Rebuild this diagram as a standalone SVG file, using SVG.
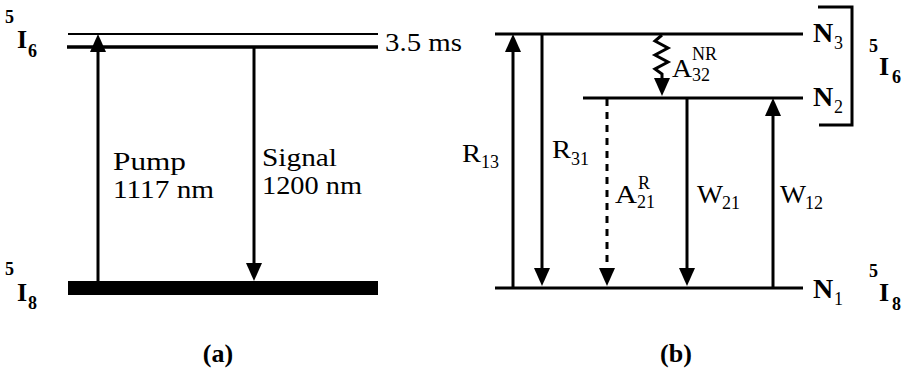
<svg xmlns="http://www.w3.org/2000/svg" width="904" height="372" viewBox="0 0 904 372">
<style>
text{font-family:"Liberation Serif","Times New Roman",serif;fill:#000}
.big{font-size:26px}
.nn{font-size:28px}
.sub{font-size:18px}
.b{font-weight:bold}
.lvl{stroke:#000;stroke-width:3;fill:none}
.arr{stroke:#000;stroke-width:3;fill:none}
</style>
<defs>
<marker id="ah" viewBox="0 0 18 16" refX="0" refY="8" markerWidth="18" markerHeight="16" markerUnits="userSpaceOnUse" orient="auto">
<path d="M0,0 L18,8 L0,16 Z" fill="#000"/>
</marker>
</defs>
<rect width="904" height="372" fill="#fff"/>

<!-- Panel (a) -->
<g id="a-level-I6">
<line x1="68" y1="34" x2="378" y2="34" stroke="#000" stroke-width="2"/>
<line x1="67" y1="47" x2="378" y2="47" stroke="#000" stroke-width="3.5"/>
<text class="big" x="385" y="51" textLength="77" lengthAdjust="spacingAndGlyphs">3.5 ms</text>
<text class="sub b" x="5" y="23">5</text>
<text class="big b" x="17" y="48">I</text>
<text class="sub b" x="28" y="57">6</text>
</g>
<g id="a-level-I8">
<rect x="68" y="281" width="310" height="14" fill="#000"/>
<text class="sub b" x="5" y="275">5</text>
<text class="big b" x="17" y="301">I</text>
<text class="sub b" x="28" y="309">8</text>
</g>
<g id="a-connectors">
<line class="arr" x1="98" y1="283" x2="98" y2="52" marker-end="url(#ah)"/>
<line class="arr" x1="254" y1="47" x2="254" y2="263" marker-end="url(#ah)"/>
</g>
<g id="a-labels">
<text class="big" x="113" y="170" textLength="73" lengthAdjust="spacingAndGlyphs">Pump</text>
<text class="big" x="113" y="198" textLength="101" lengthAdjust="spacingAndGlyphs">1117 nm</text>
<text class="big" x="262" y="166" textLength="75" lengthAdjust="spacingAndGlyphs">Signal</text>
<text class="big" x="262" y="194" textLength="100" lengthAdjust="spacingAndGlyphs">1200 nm</text>
<text class="big b" x="218" y="362" text-anchor="middle">(a)</text>
</g>

<!-- Panel (b) -->
<g id="b-level-N3">
<line class="lvl" x1="495" y1="34" x2="803" y2="34"/>
<text class="nn b" x="813" y="42">N</text>
<text class="sub" x="834" y="49">3</text>
</g>
<g id="b-level-N2">
<line class="lvl" x1="583" y1="98" x2="803" y2="98"/>
<text class="nn b" x="813" y="106">N</text>
<text class="sub" x="834" y="113">2</text>
</g>
<g id="b-level-N1">
<line class="lvl" x1="495" y1="288" x2="803" y2="288"/>
<text class="nn b" x="813" y="298">N</text>
<text class="sub" x="834" y="305">1</text>
</g>
<g id="b-bracket-I6">
<polyline class="lvl" points="818,7 852,7 852,125 819,125"/>
<text class="sub b" x="869" y="52">5</text>
<text class="big b" x="879" y="75">I</text>
<text class="sub b" x="892" y="83">6</text>
</g>
<g id="b-label-I8">
<text class="sub b" x="869" y="277">5</text>
<text class="big b" x="879" y="301">I</text>
<text class="sub b" x="892" y="310">8</text>
</g>
<g id="b-connectors">
<line class="arr" x1="513" y1="288" x2="513" y2="52" marker-end="url(#ah)"/>
<line class="arr" x1="542" y1="34" x2="542" y2="268" marker-end="url(#ah)"/>
<line class="arr" x1="607" y1="99" x2="607" y2="268" stroke-dasharray="7 6" marker-end="url(#ah)"/>
<line class="arr" x1="687" y1="98" x2="687" y2="268" marker-end="url(#ah)"/>
<line class="arr" x1="773" y1="288" x2="773" y2="116" marker-end="url(#ah)"/>
<polyline class="arr" stroke-width="2.5" points="662,35 655,41 668,48 655,55 668,62 655,69 662,74 662,78" marker-end="url(#ah)"/>
</g>
<g id="b-labels">
<text class="big" x="462" y="162" textLength="19" lengthAdjust="spacingAndGlyphs">R</text><text class="sub" x="481" y="168">13</text>
<text class="big" x="552" y="158" textLength="19" lengthAdjust="spacingAndGlyphs">R</text><text class="sub" x="571" y="165">31</text>
<text class="big" x="615" y="203" textLength="22" lengthAdjust="spacingAndGlyphs">A</text><text class="sub" x="638" y="189">R</text><text class="sub" x="637" y="208">21</text>
<text class="big" x="697" y="203" textLength="26" lengthAdjust="spacingAndGlyphs">W</text><text class="sub" x="722" y="209">21</text>
<text class="big" x="780" y="203" textLength="26" lengthAdjust="spacingAndGlyphs">W</text><text class="sub" x="805" y="209">12</text>
<text class="big" x="672" y="77" textLength="20" lengthAdjust="spacingAndGlyphs">A</text><text class="sub" x="692" y="60">NR</text><text class="sub" x="692" y="81">32</text>
<text class="big b" x="676" y="362" text-anchor="middle">(b)</text>
</g>
</svg>
